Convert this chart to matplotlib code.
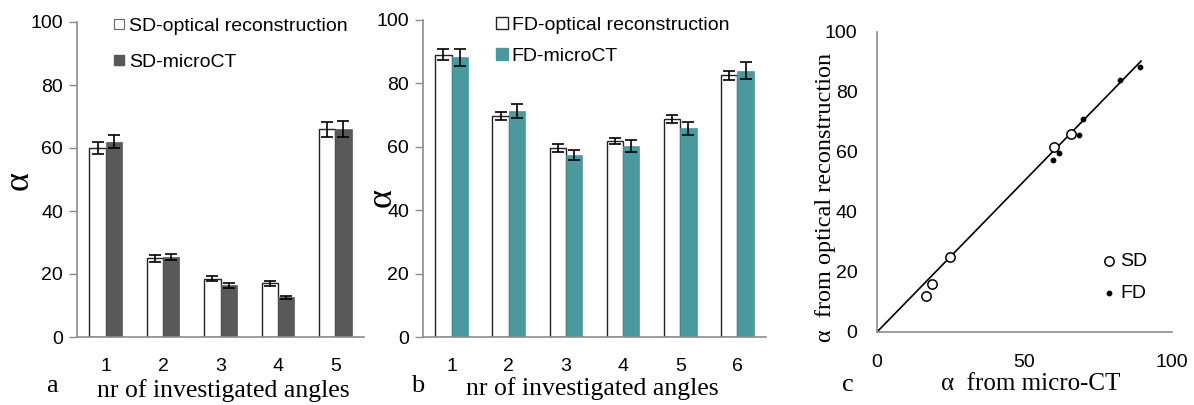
import matplotlib
matplotlib.use("Agg")
import matplotlib.pyplot as plt
import numpy as np
from matplotlib.lines import Line2D

# ---------------- data ----------------
sd_cats = ["1", "2", "3", "4", "5"]
sd_optical = [60.0, 25.0, 18.5, 17.0, 66.0]
sd_optical_err = [2.0, 1.1, 0.8, 0.7, 2.4]
sd_micro = [62.0, 25.5, 16.4, 12.6, 66.1]
sd_micro_err = [2.1, 1.0, 0.8, 0.4, 2.5]

fd_cats = ["1", "2", "3", "4", "5", "6"]
fd_optical = [89.0, 69.7, 59.7, 61.8, 68.8, 82.5]
fd_optical_err = [1.7, 1.3, 1.2, 1.0, 1.3, 1.5]
fd_micro = [88.2, 71.3, 57.5, 60.2, 65.8, 84.0]
fd_micro_err = [2.6, 2.1, 1.6, 1.8, 2.1, 2.6]

sc_sd_x = [16.7, 18.5, 24.7, 59.9, 65.9]
sc_sd_y = [12.1, 16.0, 25.1, 61.7, 66.1]
sc_fd_x = [89.0, 82.5, 69.7, 68.5, 61.8, 59.7]
sc_fd_y = [88.3, 84.1, 71.1, 65.6, 59.8, 57.2]
fit_x = [0.5, 89.5]
fit_y = [0.5, 90.3]

yticks_bar = [0, 20, 40, 60, 80, 100]
xticks_sc = [0, 50, 100]

# ---------------- style ----------------
W, H = 1194, 405
fig = plt.figure(figsize=(W / 100, H / 100), dpi=100)
SANS = "Liberation Sans"
SERIF = "Liberation Serif"
AX_COL = "#8c8c8c"
TICK_FS = 14
LEG_FS = 14
SD_DARK = "#595959"
TEAL = "#4a999f"


def box(l, r, t, b):
    return [l / W, 1 - b / H, (r - l) / W, (b - t) / H]


def style_bar_axes(ax):
    for s in ["top", "right"]:
        ax.spines[s].set_visible(False)
    for s in ["left", "bottom"]:
        ax.spines[s].set_color(AX_COL)
        ax.spines[s].set_linewidth(1.2)
    ax.tick_params(axis="y", length=6, width=1.0, color=AX_COL, pad=4)
    ax.tick_params(axis="x", length=0, pad=15)
    for lab in ax.get_xticklabels() + ax.get_yticklabels():
        lab.set_fontfamily(SANS)
        lab.set_fontsize(TICK_FS)


def bar_panel(ax, cats, v1, e1, v2, e2, c2):
    x = np.arange(len(cats))
    w = 0.285
    ax.bar(x - w / 2, v1, w, color="white", edgecolor="#222222", linewidth=1.0)
    ax.bar(x + w / 2, v2, w, color=c2, edgecolor=c2, linewidth=0.5)
    ax.errorbar(x - w / 2, v1, yerr=e1, fmt="none", ecolor="black", elinewidth=1.2, capsize=4, capthick=1.2)
    ax.errorbar(x + w / 2, v2, yerr=e2, fmt="none", ecolor="black", elinewidth=1.2, capsize=4, capthick=1.2)
    ax.set_xlim(-0.5, len(cats) - 0.5)
    ax.set_ylim(0, 100)
    ax.set_xticks(x)
    ax.set_xticklabels(cats)
    ax.set_yticks(yticks_bar)
    style_bar_axes(ax)


# ---------------- panel a ----------------
axa = fig.add_axes(box(77, 364, 22, 337))
bar_panel(axa, sd_cats, sd_optical, sd_optical_err, sd_micro, sd_micro_err, SD_DARK)
h1 = Line2D([], [], marker="s", linestyle="none", markersize=7, markerfacecolor="white", markeredgecolor="#666666", markeredgewidth=0.8)
h2 = Line2D([], [], marker="s", linestyle="none", markersize=7, markerfacecolor=SD_DARK, markeredgecolor=SD_DARK)
axa.legend([h1, h2], ["SD-optical reconstruction", "SD-microCT"], loc="upper left",
           bbox_to_anchor=(0.1, 1.04), frameon=False, handlelength=0.6, handletextpad=0.2,
           labelspacing=0.95, prop={"family": SANS, "size": LEG_FS}, borderaxespad=0)
fig.text(19 / W, 1 - 180 / H, "α", family=SERIF, fontsize=26, rotation=90, ha="center", va="center")
fig.text(52 / W, 1 - 386 / H, "a", family=SERIF, fontsize=19, ha="center", va="center")
fig.text(223 / W, 1 - 391 / H, "nr of investigated angles", family=SERIF, fontsize=18.5, ha="center", va="center")

# ---------------- panel b ----------------
axb = fig.add_axes(box(423, 766, 20, 337))
bar_panel(axb, fd_cats, fd_optical, fd_optical_err, fd_micro, fd_micro_err, TEAL)
h3 = Line2D([], [], marker="s", linestyle="none", markersize=8, markerfacecolor="white", markeredgecolor="#222222", markeredgewidth=1.0)
h4 = Line2D([], [], marker="s", linestyle="none", markersize=8, markerfacecolor=TEAL, markeredgecolor=TEAL)
axb.legend([h3, h4], ["FD-optical reconstruction", "FD-microCT"], loc="upper left",
           bbox_to_anchor=(0.19, 1.035), frameon=False, handlelength=0.6, handletextpad=0.2,
           labelspacing=0.65, prop={"family": SANS, "size": LEG_FS}, borderaxespad=0)
fig.text(382 / W, 1 - 197 / H, "α", family=SERIF, fontsize=26, rotation=90, ha="center", va="center")
fig.text(418 / W, 1 - 386 / H, "b", family=SERIF, fontsize=19, ha="center", va="center")
fig.text(592 / W, 1 - 389 / H, "nr of investigated angles", family=SERIF, fontsize=18.5, ha="center", va="center")

# ---------------- panel c ----------------
axc = fig.add_axes(box(877, 1172, 32, 332))
axc.plot(fit_x, fit_y, color="black", linewidth=1.2)
axc.scatter(sc_sd_x, sc_sd_y, s=45, facecolors="white", edgecolors="black", linewidths=1.1, zorder=3, label="SD")
axc.scatter(sc_fd_x, sc_fd_y, s=10, color="black", zorder=3, label="FD")
axc.set_xlim(0, 100)
axc.set_ylim(0, 100)
axc.set_xticks(xticks_sc)
axc.set_yticks(yticks_bar)
for s in ["top", "right"]:
    axc.spines[s].set_visible(False)
for s in ["left", "bottom"]:
    axc.spines[s].set_color(AX_COL)
    axc.spines[s].set_linewidth(1.2)
axc.tick_params(axis="y", length=0, pad=14)
axc.tick_params(axis="x", length=0, pad=16)
for lab in axc.get_xticklabels() + axc.get_yticklabels():
    lab.set_fontfamily(SANS)
    lab.set_fontsize(TICK_FS)
axc.legend(loc="upper left", bbox_to_anchor=(0.74, 0.29), frameon=False, handlelength=0.6,
           handletextpad=0.3, labelspacing=0.7, prop={"family": SANS, "size": LEG_FS}, borderaxespad=0)
fig.text(825 / W, 1 - 197 / H, "α  from optical reconstruction", family=SERIF, fontsize=17.5, rotation=90,
         ha="center", va="center")
fig.text(848 / W, 1 - 385 / H, "c", family=SERIF, fontsize=19, ha="center", va="center")
fig.text(1031 / W, 1 - 384 / H, "α  from micro-CT", family=SERIF, fontsize=18, ha="center", va="center")

fig.savefig("out.png", dpi=100)
